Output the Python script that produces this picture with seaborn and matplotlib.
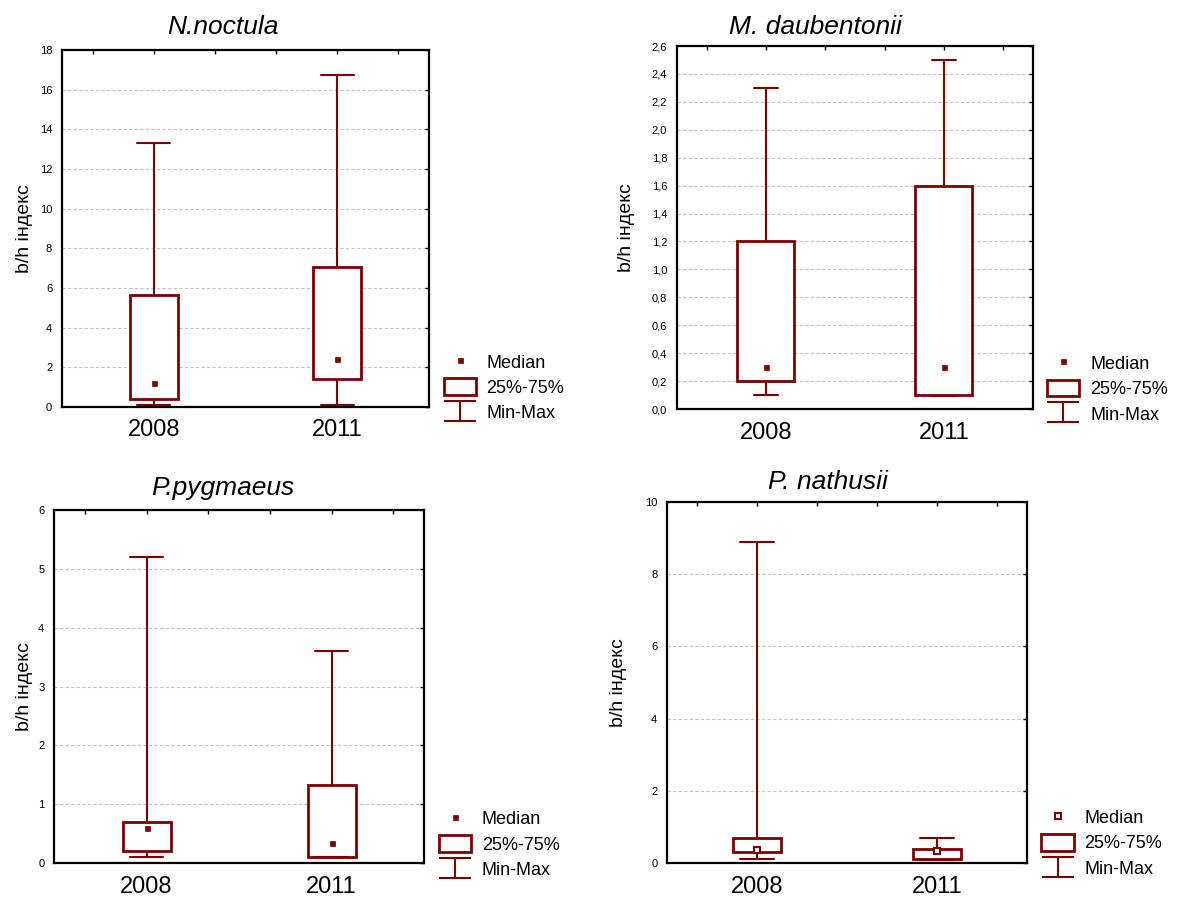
import numpy as np
import pandas as pd
import matplotlib
matplotlib.use("Agg")
import matplotlib.pyplot as plt
import seaborn as sns
from matplotlib.lines import Line2D
from matplotlib.patches import Patch
from matplotlib.path import Path
from matplotlib.ticker import MultipleLocator

# ---------------- data (min, q1, median, q3, max) ----------------
years = ["2008", "2011"]
species = ["N.noctula", "M. daubentonii", "P.pygmaeus", "P. nathusii"]

noctula_2008 = [0.1, 0.42, 1.2, 5.66, 13.3]
noctula_2011 = [0.1, 1.43, 2.43, 7.05, 16.75]
daub_2008 = [0.1, 0.2, 0.3, 1.2, 2.3]
daub_2011 = [0.09, 0.1, 0.3, 1.6, 2.5]
pygm_2008 = [0.1, 0.21, 0.6, 0.7, 5.2]
pygm_2011 = [0.1, 0.11, 0.34, 1.33, 3.6]
nath_2008 = [0.1, 0.3, 0.35, 0.7, 8.9]
nath_2011 = [0.07, 0.1, 0.32, 0.38, 0.69]

yticks_noctula = [0, 2, 4, 6, 8, 10, 12, 14, 16, 18]
yticks_daub = [0.0, 0.2, 0.4, 0.6, 0.8, 1.0, 1.2, 1.4, 1.6, 1.8, 2.0, 2.2, 2.4, 2.6]
yticks_pygm = [0, 1, 2, 3, 4, 5, 6]
yticks_nath = [0, 2, 4, 6, 8, 10]

ylabel = "b/h індекс"
legend_labels = ["Median", "25%-75%", "Min-Max"]

# ---------------- style ----------------
RED = "#800000"
sns.set_style("white")
plt.rcParams["font.family"] = ["Liberation Sans", "DejaVu Sans"]
plt.rcParams["text.color"] = "black"
plt.rcParams["axes.labelcolor"] = "black"
plt.rcParams["xtick.color"] = "black"
plt.rcParams["ytick.color"] = "black"

fig = plt.figure(figsize=(11.8, 8.97), dpi=100)

panels = [
    dict(name=species[0], a=noctula_2008, b=noctula_2011, ticks=yticks_noctula,
         comma=False, rect=[0.0525, 0.5463, 0.311, 0.398], width=0.26, cap=0.18,
         tx=0.439, tpad=11.5, lx=-0.079, hollow=False),
    dict(name=species[1], a=daub_2008, b=daub_2011, ticks=yticks_daub,
         comma=True, rect=[0.5737, 0.544, 0.3017, 0.4047], width=0.32, cap=0.135,
         tx=0.388, tpad=8.6, lx=-0.118, hollow=False),
    dict(name=species[2], a=pygm_2008, b=pygm_2011, ticks=yticks_pygm,
         comma=False, rect=[0.0458, 0.0379, 0.3136, 0.3935], width=0.26, cap=0.18,
         tx=0.457, tpad=10.8, lx=-0.057, hollow=False),
    dict(name=species[3], a=nath_2008, b=nath_2011, ticks=yticks_nath,
         comma=False, rect=[0.5653, 0.0379, 0.3051, 0.4025], width=0.27, cap=0.19,
         tx=0.447, tpad=9.4, lx=-0.111, hollow=True),
]

# I-beam marker for the Min-Max legend entry
ibeam = Path([(-1.6, 1), (1.6, 1), (0, 1), (0, -1), (-1.6, -1), (1.6, -1)],
             [Path.MOVETO, Path.LINETO, Path.MOVETO, Path.LINETO, Path.MOVETO, Path.LINETO])

for p in panels:
    ax = fig.add_axes(p["rect"])
    df = pd.DataFrame({
        "year": np.repeat(years, 5),
        "value": list(p["a"]) + list(p["b"]),
    })
    sns.boxplot(data=df, x="year", y="value", ax=ax, whis=(0, 100),
                width=p["width"], color="white", linecolor=RED,
                showfliers=False,
                boxprops=dict(linewidth=2.0),
                whiskerprops=dict(linewidth=1.5),
                capprops=dict(linewidth=1.5),
                medianprops=dict(visible=False),
                capwidths=p["cap"])
    if p["hollow"]:
        sns.pointplot(data=df, x="year", y="value", ax=ax, estimator="median",
                      errorbar=None, linestyle="none", marker="s", markersize=5,
                      markeredgewidth=1.5, markerfacecolor="white", color=RED)
    else:
        sns.pointplot(data=df, x="year", y="value", ax=ax, estimator="median",
                      errorbar=None, linestyle="none", marker="s", markersize=3.6,
                      markeredgewidth=0.5, color=RED)

    ticks = p["ticks"]
    ax.set_xlim(-0.5, 1.5)
    ax.set_ylim(ticks[0], ticks[-1])
    ax.set_yticks(ticks)
    if p["comma"]:
        ax.set_yticklabels([f"{t:.1f}".replace(".", ",") for t in ticks])
    else:
        ax.set_yticklabels([str(t) for t in ticks])
    ax.set_xticks([0, 1])
    ax.set_xticklabels(years)
    ax.xaxis.set_minor_locator(MultipleLocator(1 / 3))

    ax.tick_params(axis="both", which="both", direction="in", length=3, width=1,
                   top=True, right=True, color="black")
    ax.tick_params(axis="y", labelsize=8, pad=7, labelcolor="black")
    ax.tick_params(axis="x", labelsize=17, pad=9, labelcolor="black")

    ax.yaxis.grid(True, linestyle=(0, (3, 2)), color="#c4c4c4", linewidth=0.8)
    ax.xaxis.grid(False)
    ax.set_axisbelow(True)
    for s in ax.spines.values():
        s.set_visible(True)
        s.set_color("black")
        s.set_linewidth(1.6)

    ax.set_xlabel("")
    ax.set_ylabel(ylabel, fontsize=14, color="black")
    ax.yaxis.set_label_coords(p["lx"], 0.5)
    ax.set_title(p["name"], fontsize=19, fontstyle="italic", x=p["tx"],
                 pad=p["tpad"], color="black")

    # legend
    if p["hollow"]:
        h_med = Line2D([], [], linestyle="none", marker="s", markersize=5,
                       markeredgewidth=1.5, markerfacecolor="white", color=RED)
    else:
        h_med = Line2D([], [], linestyle="none", marker="s", markersize=3.6,
                       markeredgewidth=0.5, color=RED)
    h_box = Patch(facecolor="white", edgecolor=RED, linewidth=2.0)
    h_rng = Line2D([], [], linestyle="none", marker=ibeam, markersize=23,
                   markeredgewidth=1.5, markerfacecolor="none", markeredgecolor=RED)
    leg = ax.legend([h_med, h_box, h_rng], legend_labels, loc="upper left",
                    bbox_to_anchor=(1.04, 0.151), frameon=False, fontsize=13,
                    handlelength=1.78, handleheight=1.05, handletextpad=0.6,
                    labelspacing=0.38, borderpad=0, borderaxespad=0, numpoints=1)
    for t in leg.get_texts():
        t.set_color("black")

fig.savefig("out.png", dpi=100)
